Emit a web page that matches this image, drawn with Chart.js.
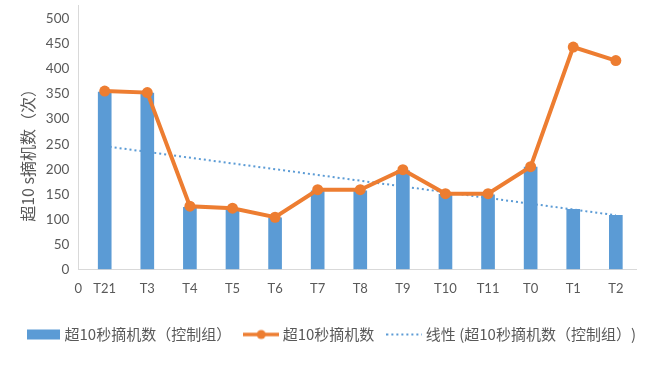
<!DOCTYPE html>
<html>
<head>
<meta charset="utf-8">
<script src="https://cdn.jsdelivr.net/npm/chart.js@4"></script>
<style>
  html, body { margin: 0; padding: 0; background: #fff; }
  #wrap { width: 652px; height: 372px; }
</style>
</head>
<body>
<div id="wrap"><canvas id="js-combo-chart" width="652" height="372"></canvas></div>
<script>
// Categories along the x axis
const categories = ['T21', 'T3', 'T4', 'T5', 'T6', 'T7', 'T8', 'T9', 'T10', 'T11', 'T0', 'T1', 'T2'];
// Bars: control group
const controlGroup = [354, 352, 124, 120, 103, 157, 157, 197, 150, 149, 204, 120, 108];
// Line: hook-off count over 10 s
const hookCounts = [356, 353, 126, 122, 104, 159, 159, 199, 151, 151, 205, 444, 417];
// Linear trend of the control group, at the first and last category
const trendEnds = [246, 108];
const seriesNames = ['超10秒摘机数（控制组）', '超10秒摘机数', '线性 (超10秒摘机数（控制组）)'];
const yTitle = '超10 s摘机数（次）';
const yTicks = [0, 50, 100, 150, 200, 250, 300, 350, 400, 450, 500];
const xStartLabel = '0';

const blue = '#5b9bd5';
const orange = '#ed7d31';
const textGrey = '#595959';
const axisGrey = '#d9d9d9';
const cjk = "'Noto Sans CJK SC', 'Noto Sans', sans-serif";
const latin = "Lato, 'Noto Sans', sans-serif";

// Small legend symbols
function legendMarker(w, draw) {
  const c = document.createElement('canvas');
  c.width = w;
  c.height = 12;
  draw(c.getContext('2d'));
  return c;
}
const barMarker = legendMarker(33, ctx => {
  ctx.fillStyle = blue;
  ctx.fillRect(0, 1, 33, 10);
});
const lineMarker = legendMarker(36, ctx => {
  ctx.strokeStyle = orange;
  ctx.lineWidth = 3.5;
  ctx.beginPath();
  ctx.moveTo(0, 6);
  ctx.lineTo(36, 6);
  ctx.stroke();
  ctx.fillStyle = orange;
  ctx.beginPath();
  ctx.arc(18, 6, 4.5, 0, Math.PI * 2);
  ctx.fill();
});
const trendMarker = legendMarker(36, ctx => {
  ctx.strokeStyle = blue;
  ctx.lineWidth = 2;
  ctx.setLineDash([2, 3]);
  ctx.beginPath();
  ctx.moveTo(0, 6);
  ctx.lineTo(36, 6);
  ctx.stroke();
});
const markers = [barMarker, lineMarker, trendMarker];

const toPoints = values => values.map((v, i) => ({ x: i + 1, y: v }));

// Axis title centred like the original (a bit below the middle of the y axis)
const yTitlePlugin = {
  id: 'yTitle',
  afterDraw(chart) {
    const { ctx, chartArea } = chart;
    ctx.save();
    ctx.translate(chart.scales.y.left + 28, (chartArea.top + chartArea.bottom) / 2 + 14);
    ctx.rotate(-Math.PI / 2);
    ctx.font = '16px ' + cjk;
    ctx.fillStyle = textGrey;
    ctx.textAlign = 'center';
    ctx.textBaseline = 'middle';
    ctx.fillText(yTitle, 0, 0);
    ctx.restore();
  },
};

const chartContext = document.getElementById('js-combo-chart').getContext('2d');

const comboChart = new Chart(chartContext, {
  type: 'bar',
  data: {
    datasets: [
      {
        type: 'bar',
        label: seriesNames[0],
        data: toPoints(controlGroup),
        backgroundColor: blue,
        barThickness: 13,
        order: 2,
      },
      {
        type: 'line',
        label: seriesNames[1],
        data: toPoints(hookCounts),
        borderColor: orange,
        backgroundColor: orange,
        borderWidth: 4,
        pointRadius: 5.5,
        pointBorderWidth: 0,
        pointBackgroundColor: orange,
        order: 1,
      },
      {
        type: 'line',
        label: seriesNames[2],
        data: [{ x: 1, y: trendEnds[0] }, { x: categories.length, y: trendEnds[1] }],
        borderColor: blue,
        borderWidth: 2,
        borderDash: [2, 3],
        pointRadius: 0,
        order: 3,
      },
    ],
  },
  plugins: [yTitlePlugin],
  options: {
    responsive: false,
    animation: false,
    layout: { padding: { left: 0, right: 0, top: 5, bottom: 20 } },
    scales: {
      x: {
        type: 'linear',
        min: 0.38,
        max: 13.49,
        offset: false,
        grid: { display: false, drawTicks: false },
        border: { color: axisGrey, width: 1 },
        ticks: {
          color: textGrey,
          font: { family: latin, size: 13 },
          padding: 12,
          maxRotation: 0,
          autoSkip: false,
          callback: v => (v < 1 ? xStartLabel : categories[v - 1]),
        },
        afterBuildTicks: scale => {
          scale.ticks = [{ value: scale.min }].concat(categories.map((c, i) => ({ value: i + 1 })));
        },
        afterFit: scale => {
          scale.height = 41.7;
          scale.paddingLeft = 0;
          scale.paddingRight = 15.3;
        },
      },
      y: {
        min: 0,
        max: 527,
        grid: { display: false, drawTicks: false },
        border: { color: axisGrey, width: 1 },
        ticks: {
          color: textGrey,
          font: { family: latin, size: 13.5 },
          padding: 9,
        },
        afterBuildTicks: scale => {
          scale.ticks = yTicks.map(v => ({ value: v }));
        },
        afterFit: scale => {
          scale.width = 78.3;
          scale.paddingTop = 0;
          scale.paddingBottom = 0;
        },
      },
    },
    plugins: {
      tooltip: { enabled: false },
      legend: {
        position: 'bottom',
        align: 'end',
        labels: {
          usePointStyle: true,
          pointStyleWidth: 28,
          padding: 16,
          color: textGrey,
          font: { family: cjk, size: 15 },
          generateLabels: chart => chart.data.datasets.map((ds, i) => ({
            text: ds.label,
            pointStyle: markers[i],
            fillStyle: 'transparent',
            strokeStyle: 'transparent',
            lineWidth: 0,
            fontColor: textGrey,
            hidden: false,
            datasetIndex: i,
          })),
        },
      },
    },
  },
});
</script>
</body>
</html>
